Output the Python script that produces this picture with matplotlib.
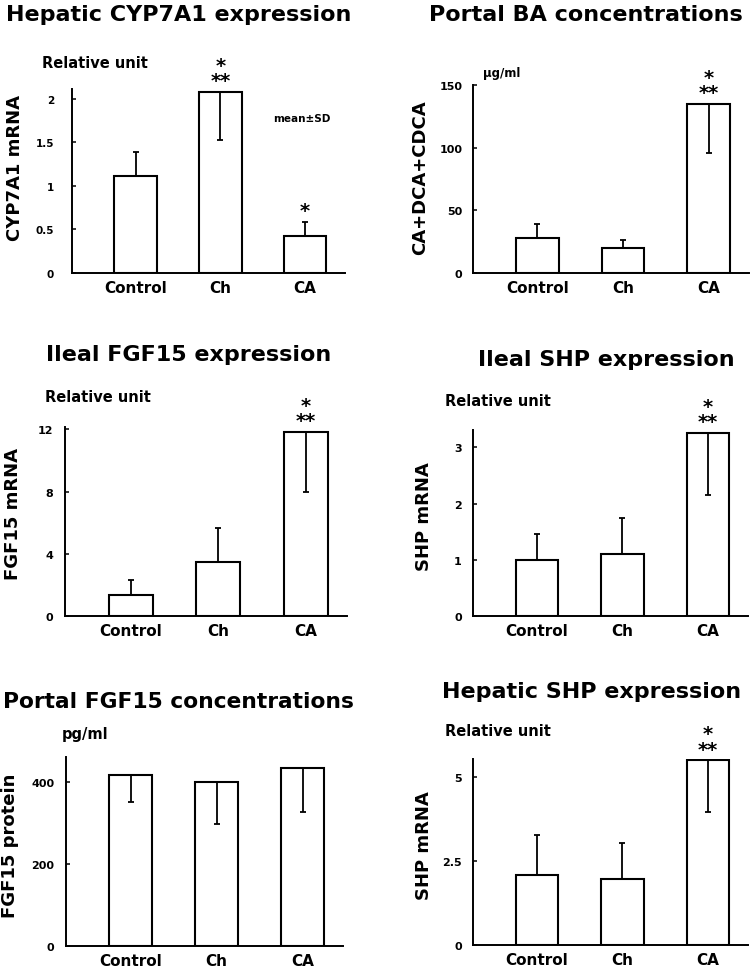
import numpy as np
import matplotlib
matplotlib.use('Agg')
import matplotlib.pyplot as plt

plt.rcParams['font.family'] = 'DejaVu Sans'
plt.rcParams['font.weight'] = 'bold'

groups = ['Control', 'Ch', 'CA']

# mean, SD, SD drawn upward (True) or downward (False), significance marks
cyp7a1_mean = [1.11, 2.08, 0.43]
cyp7a1_sd = [0.28, 0.56, 0.16]
cyp7a1_up = [True, False, True]
cyp7a1_sig = ['', '*\n**', '*']

portal_ba_mean = [28, 20, 135]
portal_ba_sd = [11, 6.5, 39]
portal_ba_up = [True, True, False]
portal_ba_sig = ['', '', '*\n**']

ileal_fgf15_mean = [1.35, 3.45, 11.85]
ileal_fgf15_sd = [0.97, 2.2, 3.9]
ileal_fgf15_up = [True, True, False]
ileal_fgf15_sig = ['', '', '*\n**']

ileal_shp_mean = [1.0, 1.1, 3.26]
ileal_shp_sd = [0.46, 0.65, 1.1]
ileal_shp_up = [True, True, False]
ileal_shp_sig = ['', '', '*\n**']

portal_fgf15_mean = [418, 400, 434]
portal_fgf15_sd = [67, 102, 107]
portal_fgf15_up = [False, False, False]
portal_fgf15_sig = ['', '', '']

hepatic_shp_mean = [2.08, 1.96, 5.49]
hepatic_shp_sd = [1.18, 1.06, 1.53]
hepatic_shp_up = [True, True, False]
hepatic_shp_sig = ['', '', '*\n**']

W, H = 754, 970
fig = plt.figure(figsize=(W / 100, H / 100), dpi=100)


def rect(x0, y_top, x1, y_base):
    return [x0 / W, 1 - y_base / H, (x1 - x0) / W, (y_base - y_top) / H]


def ftext(x, y, s, **kw):
    fig.text(x / W, 1 - y / H, s, fontweight='bold', **kw)


def panel(r, mean, sd, up, sig, ytop, yticks, yticklabels, ypad, tsize=8):
    ax = fig.add_axes(r)
    x = np.arange(len(groups))
    ax.bar(x, mean, width=0.5, color='white', edgecolor='black', linewidth=1.5, zorder=2)
    for i in range(len(groups)):
        lo = 0 if up[i] else sd[i]
        hi = sd[i] if up[i] else 0
        ax.errorbar(x[i], mean[i], yerr=[[lo], [hi]], fmt='none', ecolor='black',
                    elinewidth=1.3, capsize=2.5, capthick=1.3, zorder=3)
        if sig[i]:
            top = mean[i] + (sd[i] if up[i] else 0)
            ax.annotate(sig[i], (x[i], top), xytext=(0, 1), textcoords='offset points',
                        ha='center', va='bottom', multialignment='center',
                        linespacing=0.75, fontsize=14, fontweight='bold')
    ax.set_xlim(-0.75, 2.47)
    ax.set_ylim(0, ytop)
    ax.set_xticks(x)
    ax.set_xticklabels(groups, fontsize=11, fontweight='bold')
    ax.set_yticks(yticks)
    ax.set_yticklabels(yticklabels, fontsize=tsize, fontweight='bold')
    ax.tick_params(axis='x', length=0, pad=5)
    ax.tick_params(axis='y', direction='in', length=3, width=1.1, pad=ypad)
    for s in ['top', 'right']:
        ax.spines[s].set_visible(False)
    for s in ['left', 'bottom']:
        ax.spines[s].set_linewidth(1.4)
    return ax


panel(rect(72, 90, 345, 274), cyp7a1_mean, cyp7a1_sd, cyp7a1_up, cyp7a1_sig,
      2.11, [0, 0.5, 1, 1.5, 2], ['0', '0.5', '1', '1.5', '2'], 13, 7.5)
panel(rect(473, 86, 749, 274), portal_ba_mean, portal_ba_sd, portal_ba_up, portal_ba_sig,
      150, [0, 50, 100, 150], ['0', '50', '100', '150'], 7.5)
panel(rect(65, 428, 347, 617), ileal_fgf15_mean, ileal_fgf15_sd, ileal_fgf15_up, ileal_fgf15_sig,
      12.15, [0, 4, 8, 12], ['0', '4', '8', '12'], 8.4)
panel(rect(473, 431, 748, 617), ileal_shp_mean, ileal_shp_sd, ileal_shp_up, ileal_shp_sig,
      3.31, [0, 1, 2, 3], ['0', '1', '2', '3'], 8)
panel(rect(66, 758, 343, 947), portal_fgf15_mean, portal_fgf15_sd, portal_fgf15_up, portal_fgf15_sig,
      461, [0, 200, 400], ['0', '200', '400'], 8.4)
panel(rect(473, 760, 748, 946), hepatic_shp_mean, hepatic_shp_sd, hepatic_shp_up, hepatic_shp_sig,
      5.52, [0, 2.5, 5], ['0', '2.5', '5'], 8)

# titles
ftext(179, 15, 'Hepatic CYP7A1 expression', fontsize=16, ha='center', va='center')
ftext(586, 15, 'Portal BA concentrations', fontsize=16, ha='center', va='center')
ftext(189, 355, 'Ileal FGF15 expression', fontsize=16, ha='center', va='center')
ftext(606, 360, 'Ileal SHP expression', fontsize=16, ha='center', va='center')
ftext(178, 702, 'Portal FGF15 concentrations', fontsize=15.7, ha='center', va='center')
ftext(592, 692, 'Hepatic SHP expression', fontsize=16, ha='center', va='center')

# y axis labels
ftext(15, 168, 'CYP7A1 mRNA', fontsize=13, rotation=90, ha='center', va='center')
ftext(420, 178, 'CA+DCA+CDCA', fontsize=13, rotation=90, ha='center', va='center')
ftext(13, 514, 'FGF15 mRNA', fontsize=13, rotation=90, ha='center', va='center')
ftext(424, 517, 'SHP mRNA', fontsize=13, rotation=90, ha='center', va='center')
ftext(10, 846, 'FGF15 protein', fontsize=13, rotation=90, ha='center', va='center')
ftext(424, 846, 'SHP mRNA', fontsize=13, rotation=90, ha='center', va='center')

# unit labels
ftext(42, 63, 'Relative unit', fontsize=10.5, ha='left', va='center')
ftext(45, 398, 'Relative unit', fontsize=10.5, ha='left', va='center')
ftext(445, 402, 'Relative unit', fontsize=10.5, ha='left', va='center')
ftext(445, 732, 'Relative unit', fontsize=10.5, ha='left', va='center')
ftext(483, 73, 'µg/ml', fontsize=8.5, ha='left', va='center')
ftext(62, 735, 'pg/ml', fontsize=10.5, ha='left', va='center')
ftext(302, 119, 'mean±SD', fontsize=7.5, ha='center', va='center')

fig.savefig('out.png', dpi=100)
